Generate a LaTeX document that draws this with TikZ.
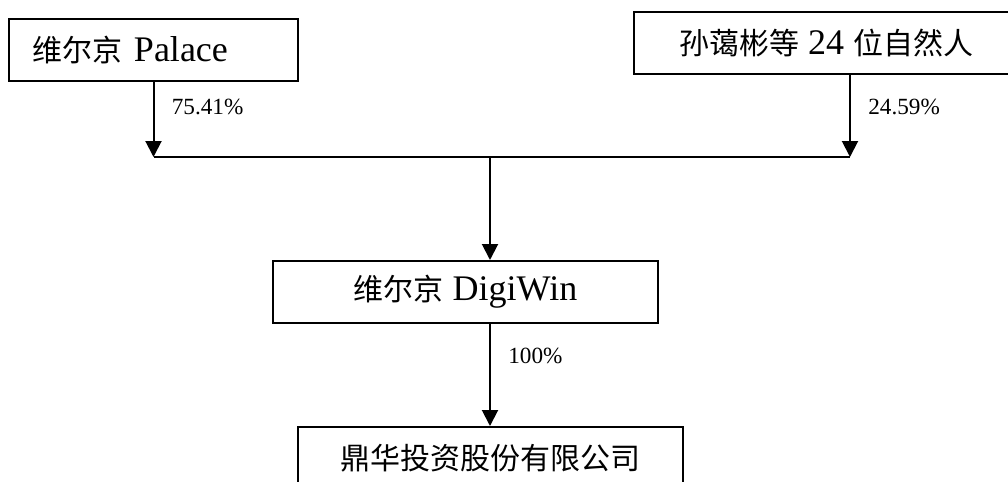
\documentclass[tikz,border=0pt]{standalone}
\usepackage{fontspec}
\setmainfont{Liberation Serif}[Scale=1.2]
\newfontfamily\cjk{Noto Sans CJK SC}
\usetikzlibrary{arrows.meta}

\begin{document}
\begin{tikzpicture}[x=0.75pt, y=-0.75pt, line width=1.5pt,
                    box/.style={draw, inner sep=0pt, minimum height=46.5pt, font=\fontsize{22.5pt}{27pt}\selectfont},
                    share/.style={inner sep=0pt, right=13pt, font=\fontsize{14.5pt}{17pt}\selectfont},
                    arr/.style={-{Triangle[width=12pt,length=12pt]}}]
  \useasboundingbox (0,0) rectangle (1008,482);

  \node[box, text width=182.25pt, inner xsep=17.25pt, align=left] (palace) at (153.5,50) {{\cjk 维尔京} Palace};
  \node[box, minimum width=288pt] (people) at (826,43) {{\cjk 孙蔼彬等} 24 {\cjk 位自然人}};
  \node[box, minimum width=288.75pt] (digiwin) at (465.5,292) {{\cjk 维尔京} DigiWin};
  \node[box, minimum width=288.75pt] (dinghua) at (490.5,458) {\cjk 鼎华投资股份有限公司};

  % junction line
  \coordinate (left) at (154,157);
  \coordinate (mid) at (490,157);
  \coordinate (right) at (850,157);
  \draw (left) -- (right);

  \path
    (palace) edge[arr] node[share, pos=.33] (p1) {75.41\%} (palace |- left)
    (people.south -| right) edge[arr] node[share, pos=.39] (p2) {24.59\%} (right)
    (mid) edge[arr] (digiwin.north -| mid)
    (digiwin.south -| mid) edge[arr] node[share, pos=.31] (p3) {100\%} (dinghua.north -| mid);
\end{tikzpicture}
\end{document}
